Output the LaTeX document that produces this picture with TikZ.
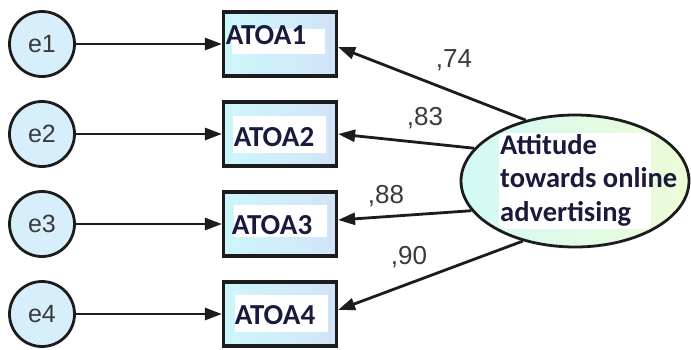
\documentclass[tikz,border=0pt]{standalone}
\usepackage{fontspec}
\setmainfont{Liberation Sans}
\newfontfamily\labelfont{Carlito}
\usetikzlibrary{shapes.geometric,arrows.meta}
\definecolor{ink}{HTML}{1C1C1C}
\definecolor{numgray}{HTML}{3A3A3A}
\definecolor{navy}{HTML}{1A1A3C}
\definecolor{errfill}{HTML}{D6EFFA}
\definecolor{boxL}{HTML}{CDF7FB}
\definecolor{boxR}{HTML}{D2E4F8}
\definecolor{latL}{HTML}{D2FAF6}
\definecolor{latR}{HTML}{EEFBD6}
\begin{document}
\begin{tikzpicture}[x=1pt,y=-1pt,
  err/.style={circle,draw=ink,line width=2.8pt,fill=errfill,minimum size=65pt,inner sep=0pt,
    font=\fontsize{25}{28}\selectfont,text=numgray},
  obs/.style={rectangle,draw=ink,line width=3.2pt,left color=boxL,right color=boxR,
    minimum width=113pt,minimum height=64pt,inner sep=0pt},
  patch/.style={fill=white,inner sep=0pt,minimum width=93pt},
  obslabel/.style={font=\labelfont\bfseries\fontsize{29}{32}\selectfont,text=navy,inner sep=0pt},
  link/.style={line width=2.8pt,draw=ink,-{Triangle[length=17pt,width=12pt]}},
  coef/.style={font=\fontsize{26}{28}\selectfont,text=numgray,inner sep=0pt}]
\useasboundingbox (0,0) rectangle (691,349);

% error terms
\node[err] (e1) at (42,44) {e1};
\node[err] (e2) at (42,134) {e2};
\node[err] (e3) at (42,224) {e3};
\node[err] (e4) at (42,314) {e4};

% observed indicators
\node[obs] (A1) at (280,44) {};
\node[obs] (A2) at (280,134) {};
\node[obs] (A3) at (280,224) {};
\node[obs] (A4) at (280,314) {};

\node[patch,minimum height=25pt] (P1) at (278,41) {};
\node[patch,minimum height=37pt] (P2) at (279,134) {};
\node[patch,minimum height=32pt] (P3) at (280,221) {};
\node[patch,minimum height=37pt] (P4) at (281,313) {};

\node[obslabel] (L1) at (266,35) {ATOA1};
\node[obslabel] (L2) at (274,137) {ATOA2};
\node[obslabel] (L3) at (272,225) {ATOA3};
\node[obslabel] (L4) at (275,315) {ATOA4};

% latent factor
\node[ellipse,draw=ink,line width=2.8pt,left color=latL,right color=latR,
  minimum width=228pt,minimum height=132pt,inner sep=0pt] (F) at (575,181) {};
\node[fill=white,rounded corners=6pt,minimum width=152pt,minimum height=96pt,inner sep=0pt]
  (FP) at (575,181) {};
\node[anchor=west,align=left,inner sep=0pt,text=navy,
  font=\labelfont\bfseries\fontsize{28.5}{33.5}\selectfont] (FT) at (500,180)
  {Attitude\\towards online\\advertising};

% error paths
\draw[link] (e1) -- (A1);
\draw[link] (e2) -- (A2);
\draw[link] (e3) -- (A3);
\draw[link] (e4) -- (A4);

% loadings
\draw[link] (F.129) -- ([yshift=-3pt]A1.east);
\draw[link] (F.162) -- (A2.east);
\draw[link] (F.196) -- ([yshift=4pt]A3.east);
\draw[link] (F.229) -- ([yshift=4pt]A4.east);

\node[coef] (c1) at (454,60) {,74};
\node[coef] (c2) at (425,118) {,83};
\node[coef] (c3) at (386,196) {,88};
\node[coef] (c4) at (409,257) {,90};
\end{tikzpicture}
\end{document}
